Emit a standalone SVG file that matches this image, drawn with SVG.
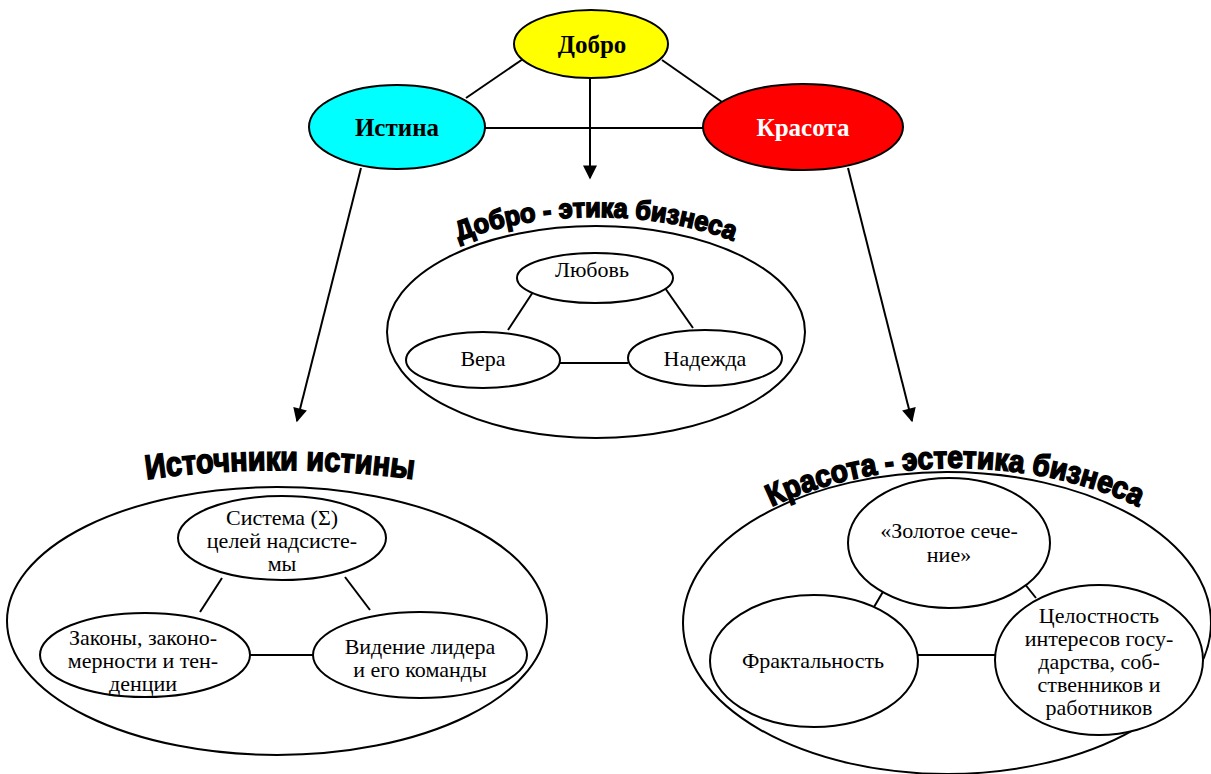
<svg xmlns="http://www.w3.org/2000/svg" width="1211" height="774" viewBox="0 0 1211 774">
<defs>
<style>
.e{fill:#fff;stroke:#000;stroke-width:2}
.l{stroke:#000;stroke-width:2;fill:none}
.lbl{font-family:"Liberation Serif","Times New Roman",serif;font-size:22px;fill:#000;text-anchor:middle}
.top{font-family:"Liberation Serif","Times New Roman",serif;font-size:25px;font-weight:bold;text-anchor:middle}
.wa{font-family:"Liberation Sans",Arial,sans-serif;font-weight:bold;fill:#000;stroke:#000;stroke-width:1.6;text-anchor:middle}
</style>
<marker id="ah" viewBox="0 0 10 10" refX="9" refY="5" markerWidth="16" markerHeight="14" markerUnits="userSpaceOnUse" orient="auto">
<path d="M0,0 L10,5 L0,10 z" fill="#000"/>
</marker>
<path id="p1" d="M 371 333 A 225 116 0 0 1 821 333"/>
<path id="p2" d="M -120 632 A 400 162 0 0 1 680 632"/>
<path id="p3" d="M 665 640 A 290 172 0 0 1 1245 640"/>
</defs>
<rect width="1211" height="774" fill="#fff"/>
<g id="ethics">
<ellipse class="e" cx="596" cy="332" rx="209" ry="106"/>
<text class="wa" font-size="27"><textPath href="#p1" startOffset="50%" textLength="280" lengthAdjust="spacingAndGlyphs">Добро - этика бизнеса</textPath></text>
</g>
<g id="sources">
<ellipse class="e" cx="277" cy="621" rx="270" ry="134"/>
<text class="wa" font-size="34"><textPath href="#p2" startOffset="50%" textLength="268" lengthAdjust="spacingAndGlyphs">Источники истины</textPath></text>
</g>
<g id="aesthetics">
<ellipse class="e" cx="947" cy="623" rx="264" ry="151"/>
<text class="wa" font-size="31"><textPath href="#p3" startOffset="50%" textLength="378" lengthAdjust="spacingAndGlyphs">Красота - эстетика бизнеса</textPath></text>
</g>
<g id="connectors">
<line class="l" x1="523" y1="59" x2="466" y2="98"/>
<line class="l" x1="662" y1="60" x2="722" y2="102"/>
<line class="l" x1="485" y1="128" x2="704" y2="128"/>
<line class="l" x1="590" y1="78" x2="590" y2="178" marker-end="url(#ah)"/>
<line class="l" x1="361" y1="168" x2="297" y2="421" marker-end="url(#ah)"/>
<line class="l" x1="848" y1="168" x2="912" y2="421" marker-end="url(#ah)"/>
<line class="l" x1="533" y1="292" x2="508" y2="330"/>
<line class="l" x1="665" y1="288" x2="693" y2="328"/>
<line class="l" x1="560" y1="363" x2="628" y2="363"/>
<line class="l" x1="222" y1="578" x2="200" y2="612"/>
<line class="l" x1="345" y1="577" x2="370" y2="610"/>
<line class="l" x1="250" y1="655" x2="313" y2="655"/>
<line class="l" x1="884" y1="590" x2="874" y2="607"/>
<line class="l" x1="1024" y1="583" x2="1036" y2="598"/>
<line class="l" x1="918" y1="655" x2="995" y2="655"/>
</g>
<g id="dobro"><ellipse cx="591" cy="44" rx="77" ry="34" fill="#ffff00" stroke="#000" stroke-width="2"/><text class="top" x="592" y="53">Добро</text></g>
<g id="istina"><ellipse cx="397" cy="127" rx="88" ry="42" fill="#00ffff" stroke="#000" stroke-width="2"/><text class="top" x="397" y="136">Истина</text></g>
<g id="krasota"><ellipse cx="803" cy="127" rx="100" ry="43" fill="#ff0000" stroke="#000" stroke-width="2"/><text class="top" x="803" y="136" fill="#fff">Красота</text></g>

<g id="lyubov"><ellipse class="e" cx="595" cy="278" rx="78" ry="25"/><text class="lbl" x="592" y="277">Любовь</text></g>
<g id="vera"><ellipse class="e" cx="483" cy="360" rx="77" ry="28"/><text class="lbl" x="483" y="366">Вера</text></g>
<g id="nadezhda"><ellipse class="e" cx="705" cy="358" rx="77" ry="28"/><text class="lbl" x="705" y="366">Надежда</text></g>

<g id="sistema"><ellipse class="e" cx="282" cy="538" rx="104" ry="42"/>
<text class="lbl" x="282" y="525">Система (Σ)</text>
<text class="lbl" x="282" y="548">целей надсисте-</text>
<text class="lbl" x="282" y="571">мы</text></g>
<g id="zakony"><ellipse class="e" cx="145" cy="655" rx="105" ry="42"/>
<text class="lbl" x="143" y="645">Законы, законо-</text>
<text class="lbl" x="143" y="668">мерности и тен-</text>
<text class="lbl" x="143" y="691">денции</text></g>
<g id="videnie"><ellipse class="e" cx="420" cy="655" rx="107" ry="43"/>
<text class="lbl" x="420" y="654">Видение лидера</text>
<text class="lbl" x="420" y="677">и его команды</text></g>

<g id="zoloto"><ellipse class="e" cx="949" cy="543" rx="101" ry="65"/>
<text class="lbl" x="949" y="538">«Золотое сече-</text>
<text class="lbl" x="949" y="562">ние»</text></g>
<g id="fraktal"><ellipse class="e" cx="814" cy="661" rx="104" ry="66"/>
<text class="lbl" x="813" y="668">Фрактальность</text></g>
<g id="celost"><ellipse class="e" cx="1099" cy="660" rx="104" ry="75"/>
<text class="lbl" x="1099" y="623">Целостность</text>
<text class="lbl" x="1099" y="646">интересов госу-</text>
<text class="lbl" x="1099" y="669">дарства, соб-</text>
<text class="lbl" x="1099" y="692">ственников и</text>
<text class="lbl" x="1099" y="715">работников</text></g>
</svg>
